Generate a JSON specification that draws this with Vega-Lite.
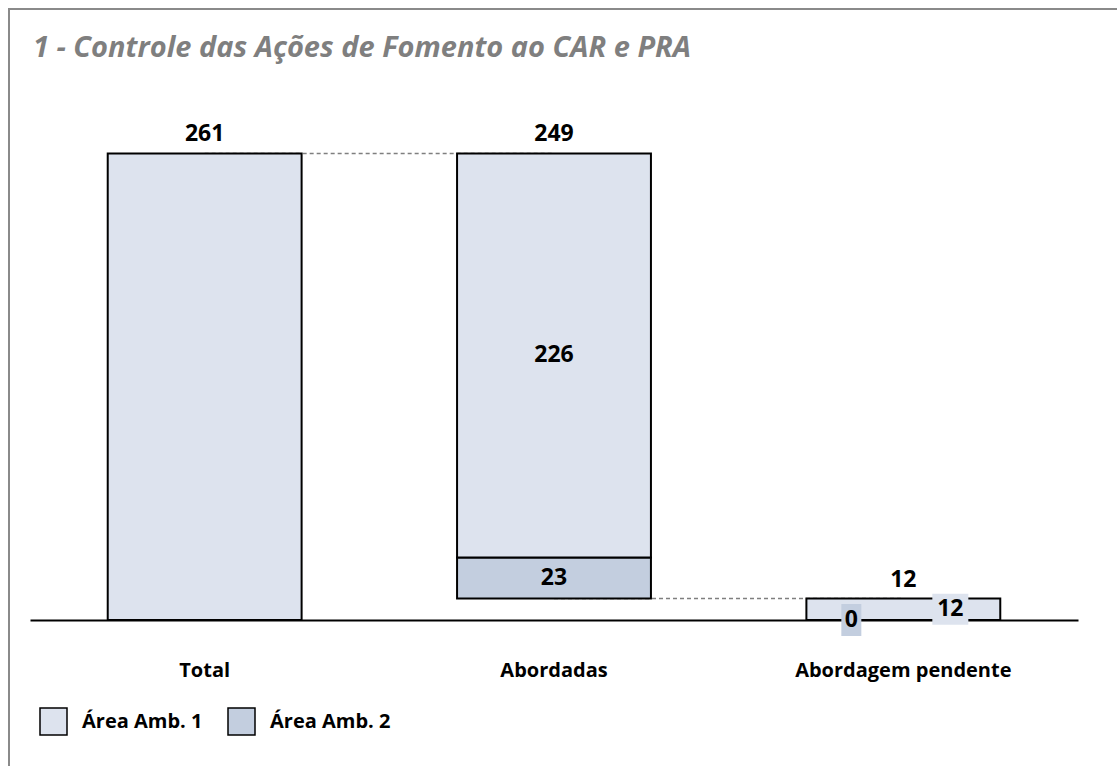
{
  "$schema": "https://vega.github.io/schema/vega-lite/v6.json",
  "autosize": {"type": "none"},
  "padding": {"left": 9, "top": 9, "right": 0, "bottom": 0},
  "width": 1120,
  "height": 760,
  "background": "white",
  "config": {
    "view": {"stroke": "#8a8a8a", "strokeWidth": 2},
    "font": "Open Sans"
  },
  "title": {
    "text": "1 - Controle das Ações de Fomento ao CAR e PRA",
    "anchor": "start",
    "baseline": "alphabetic",
    "offset": -77,
    "dx": 24,
    "font": "Open Sans",
    "fontSize": 29,
    "fontStyle": "italic",
    "fontWeight": "bold",
    "color": "#7f7f7f"
  },
  "data": {"values": [
    {"camada": "segmento", "categoria": "Total", "serie": "Área Amb. 1", "inicio": 0, "fim": 261, "valor": 261},
    {"camada": "segmento", "categoria": "Abordadas", "serie": "Área Amb. 2", "inicio": 12, "fim": 35, "valor": 23},
    {"camada": "segmento", "categoria": "Abordadas", "serie": "Área Amb. 1", "inicio": 35, "fim": 261, "valor": 226},
    {"camada": "segmento", "categoria": "Abordagem pendente", "serie": "Área Amb. 2", "inicio": 0, "fim": 0, "valor": 0},
    {"camada": "segmento", "categoria": "Abordagem pendente", "serie": "Área Amb. 1", "inicio": 0, "fim": 12, "valor": 12},
    {"camada": "total", "categoria": "Total", "valor": 261, "fim": 261},
    {"camada": "total", "categoria": "Abordadas", "valor": 249, "fim": 261},
    {"camada": "total", "categoria": "Abordagem pendente", "valor": 12, "fim": 12},
    {"camada": "conector", "conector": "a", "categoria": "Total", "fim": 261},
    {"camada": "conector", "conector": "a", "categoria": "Abordadas", "fim": 261},
    {"camada": "conector", "conector": "b", "categoria": "Abordadas", "fim": 12},
    {"camada": "conector", "conector": "b", "categoria": "Abordagem pendente", "fim": 12}
  ]},
  "encoding": {
    "x": {
      "field": "categoria",
      "type": "nominal",
      "scale": {"domain": ["Total", "Abordadas", "Abordagem pendente"], "range": [21, 1069], "paddingInner": 0.445, "paddingOuter": 0.2225},
      "axis": {
        "title": null,
        "offset": -149,
        "domainColor": "black",
        "domainWidth": 2,
        "ticks": false,
        "grid": false,
        "labelAngle": 0,
        "labelPadding": 40,
        "labelLimit": 0,
        "labelFont": "Open Sans",
        "labelFontSize": 20,
        "labelFontWeight": "bold",
        "labelColor": "black"
      }
    }
  },
  "layer": [
    {
      "transform": [{"filter": "datum.camada === 'conector'"}],
      "mark": {"type": "line", "color": "#7f7f7f", "strokeWidth": 1.5, "strokeDash": [4, 3]},
      "encoding": {
        "y": {"field": "fim", "type": "quantitative", "scale": {"domain": [-83.36, 341.84], "nice": false, "zero": false}, "axis": null},
        "detail": {"field": "conector", "type": "nominal"}
      }
    },
    {
      "transform": [{"filter": "datum.camada === 'segmento'"}],
      "mark": {"type": "bar", "stroke": "black", "strokeWidth": 2},
      "encoding": {
        "y": {"field": "inicio", "type": "quantitative", "scale": {"domain": [-83.36, 341.84], "nice": false, "zero": false}, "axis": null},
        "y2": {"field": "fim"},
        "fill": {
          "field": "serie",
          "type": "nominal",
          "scale": {"domain": ["Área Amb. 1", "Área Amb. 2"], "range": ["#dde3ee", "#c3cedf"]},
          "legend": {
            "title": null,
            "orient": "none",
            "direction": "horizontal",
            "legendX": 30,
            "legendY": 698,
            "symbolType": "square",
            "symbolSize": 729,
            "symbolStrokeColor": "black",
            "symbolStrokeWidth": 1.5,
            "labelFont": "Open Sans",
            "labelFontSize": 20,
            "labelFontWeight": "bold",
            "labelColor": "black",
            "labelOffset": 14,
            "columnPadding": 22
          }
        }
      }
    },
    {
      "transform": [{"filter": "datum.camada === 'total'"}],
      "mark": {"type": "text", "baseline": "alphabetic", "dy": -12, "font": "Open Sans", "fontSize": 23, "fontWeight": "bold", "color": "black"},
      "encoding": {
        "y": {"field": "fim", "type": "quantitative", "scale": {"domain": [-83.36, 341.84], "nice": false, "zero": false}, "axis": null},
        "text": {"field": "valor", "type": "quantitative"}
      }
    },
    {
      "transform": [
        {"filter": "datum.camada === 'segmento' && datum.categoria === 'Abordadas'"},
        {"calculate": "(datum.inicio + datum.fim) / 2", "as": "meio"}
      ],
      "mark": {"type": "text", "baseline": "middle", "font": "Open Sans", "fontSize": 23, "fontWeight": "bold", "color": "black"},
      "encoding": {
        "y": {"field": "meio", "type": "quantitative", "scale": {"domain": [-83.36, 341.84], "nice": false, "zero": false}, "axis": null},
        "text": {"field": "valor", "type": "quantitative"}
      }
    },
    {
      "transform": [
        {"filter": "datum.camada === 'segmento' && datum.categoria === 'Abordagem pendente' && datum.serie === 'Área Amb. 2'"},
        {"calculate": "(datum.inicio + datum.fim) / 2", "as": "meio"}
      ],
      "mark": {"type": "point", "shape": "M-1,-1.6H1V1.6H-1Z", "size": 400, "filled": true, "fill": "#c3cedf", "opacity": 1, "strokeWidth": 0, "xOffset": -52},
      "encoding": {
        "y": {"field": "meio", "type": "quantitative", "scale": {"domain": [-83.36, 341.84], "nice": false, "zero": false}, "axis": null}
      }
    },
    {
      "transform": [
        {"filter": "datum.camada === 'segmento' && datum.categoria === 'Abordagem pendente' && datum.serie === 'Área Amb. 2'"},
        {"calculate": "(datum.inicio + datum.fim) / 2", "as": "meio"}
      ],
      "mark": {"type": "text", "baseline": "middle", "dx": -52, "font": "Open Sans", "fontSize": 23, "fontWeight": "bold", "color": "black"},
      "encoding": {
        "y": {"field": "meio", "type": "quantitative", "scale": {"domain": [-83.36, 341.84], "nice": false, "zero": false}, "axis": null},
        "text": {"field": "valor", "type": "quantitative"}
      }
    },
    {
      "transform": [
        {"filter": "datum.camada === 'segmento' && datum.categoria === 'Abordagem pendente' && datum.serie === 'Área Amb. 1'"},
        {"calculate": "(datum.inicio + datum.fim) / 2", "as": "meio"}
      ],
      "mark": {"type": "point", "shape": "M-1.8,-1.55H1.8V1.55H-1.8Z", "size": 400, "filled": true, "fill": "#dde3ee", "opacity": 1, "strokeWidth": 0, "xOffset": 47},
      "encoding": {
        "y": {"field": "meio", "type": "quantitative", "scale": {"domain": [-83.36, 341.84], "nice": false, "zero": false}, "axis": null}
      }
    },
    {
      "transform": [
        {"filter": "datum.camada === 'segmento' && datum.categoria === 'Abordagem pendente' && datum.serie === 'Área Amb. 1'"},
        {"calculate": "(datum.inicio + datum.fim) / 2", "as": "meio"}
      ],
      "mark": {"type": "text", "baseline": "middle", "dx": 47, "font": "Open Sans", "fontSize": 23, "fontWeight": "bold", "color": "black"},
      "encoding": {
        "y": {"field": "meio", "type": "quantitative", "scale": {"domain": [-83.36, 341.84], "nice": false, "zero": false}, "axis": null},
        "text": {"field": "valor", "type": "quantitative"}
      }
    }
  ]
}
